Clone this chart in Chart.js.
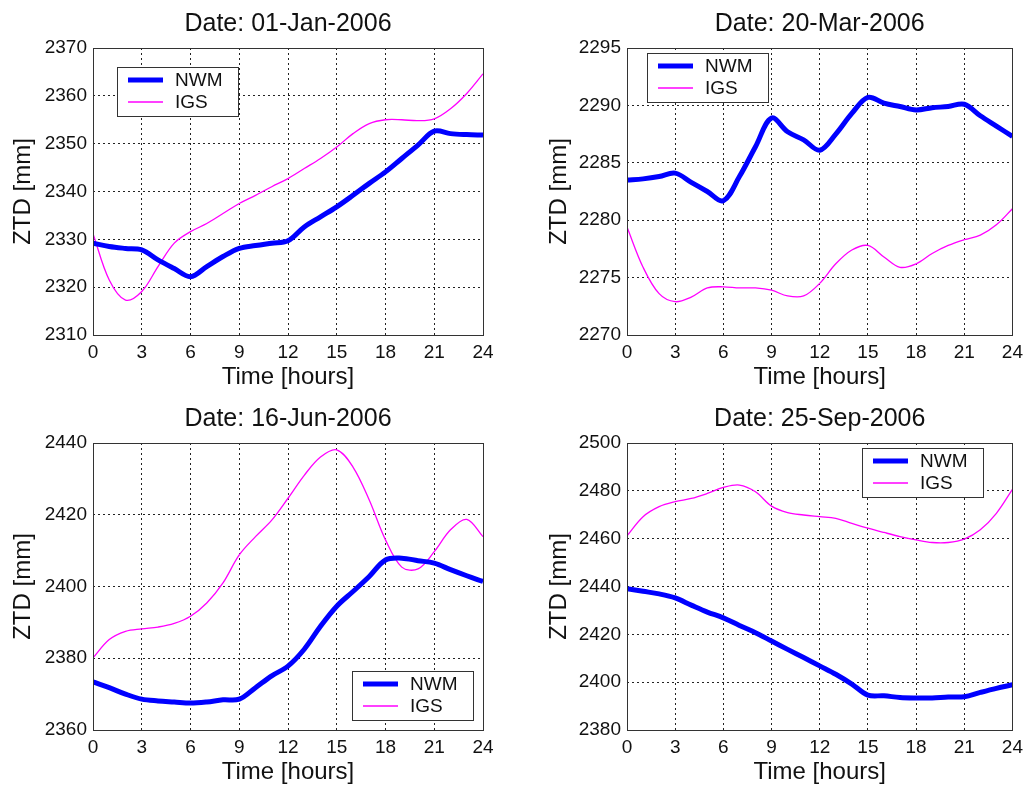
<!DOCTYPE html>
<html>
<head>
<meta charset="utf-8">
<script src="https://cdn.jsdelivr.net/npm/chart.js@4.4.1/dist/chart.umd.min.js"></script>
<style>
    html, body { margin: 0; padding: 0; background: #fff; }
    body { width: 1029px; height: 785px; position: relative; overflow: hidden; }
    .panel { position: absolute; }
</style>
</head>
<body>
<div class="panel" style="left:0;top:0"><canvas id="c1" width="514" height="395"></canvas></div>
<div class="panel" style="left:514px;top:0"><canvas id="c2" width="515" height="395"></canvas></div>
<div class="panel" style="left:0;top:395px"><canvas id="c3" width="514" height="395"></canvas></div>
<div class="panel" style="left:514px;top:395px"><canvas id="c4" width="515" height="395"></canvas></div>
<script>
// Time axis
const hours = [0, 1, 2, 3, 4, 5, 6, 7, 8, 9, 10, 11, 12, 13, 14, 15, 16, 17, 18, 19, 20, 21, 22, 23, 24];
const xTicks = [0, 3, 6, 9, 12, 15, 18, 21, 24];

// 01-Jan-2006
const janNwm = [2329.2, 2328.5, 2328.1, 2327.8, 2325.7, 2323.9, 2322.2, 2324.3, 2326.4, 2328.1, 2328.7, 2329.2, 2329.7,
                2332.6, 2334.7, 2336.8, 2339.2, 2341.7, 2344.1, 2346.9, 2349.7, 2352.6, 2352.1, 2351.9, 2351.8];
const janIgs = [2331.2, 2321.5, 2317.3, 2319.1, 2324.3, 2329.2, 2331.6, 2333.3, 2335.4, 2337.5, 2339.2, 2341.0, 2342.7,
                2344.8, 2346.9, 2349.3, 2352.1, 2354.2, 2355.0, 2355.0, 2354.8, 2355.2, 2357.3, 2360.5, 2364.6];
const janTicks = [2310, 2320, 2330, 2340, 2350, 2360, 2370];

// 20-Mar-2006
const marNwm = [2283.5, 2283.6, 2283.8, 2284.1, 2283.3, 2282.5, 2281.7, 2283.8, 2286.4, 2288.9, 2287.7, 2287.0, 2286.1,
                2287.5, 2289.3, 2290.7, 2290.2, 2289.9, 2289.6, 2289.8, 2289.9, 2290.1, 2289.1, 2288.2, 2287.3];
const marIgs = [2279.4, 2275.9, 2273.6, 2272.9, 2273.3, 2274.1, 2274.2, 2274.1, 2274.1, 2273.9, 2273.4, 2273.4, 2274.5,
                2276.2, 2277.4, 2277.8, 2276.8, 2275.9, 2276.2, 2277.1, 2277.8, 2278.3, 2278.7, 2279.6, 2281.0];
const marTicks = [2270, 2275, 2280, 2285, 2290, 2295];

// 16-Jun-2006
const junNwm = [2373.4, 2371.8, 2370.0, 2368.6, 2368.1, 2367.8, 2367.5, 2367.8, 2368.4, 2368.6, 2371.8, 2375.1, 2377.8,
                2382.5, 2388.9, 2394.5, 2398.6, 2402.8, 2407.4, 2407.9, 2407.2, 2406.5, 2404.7, 2403.0, 2401.4];
const junIgs = [2380.1, 2385.2, 2387.5, 2388.2, 2388.7, 2389.7, 2391.7, 2395.4, 2401.0, 2408.8, 2413.9, 2418.5, 2424.6,
                2431.0, 2436.1, 2438.1, 2433.3, 2424.1, 2413.0, 2405.4, 2404.9, 2409.7, 2415.8, 2418.7, 2413.9];
const junTicks = [2360, 2380, 2400, 2420, 2440];

// 25-Sep-2006
const sepNwm = [2439.1, 2438.0, 2436.9, 2435.2, 2432.2, 2429.3, 2426.9, 2423.7, 2420.7, 2417.2, 2413.7, 2410.3, 2406.8,
                2403.3, 2399.2, 2394.6, 2394.3, 2393.6, 2393.4, 2393.4, 2393.8, 2393.9, 2395.7, 2397.4, 2398.9];
const sepIgs = [2461.2, 2469.2, 2473.4, 2475.5, 2476.8, 2478.9, 2481.4, 2482.4, 2479.6, 2473.6, 2470.9, 2469.9, 2469.2,
                2468.5, 2466.4, 2464.4, 2462.6, 2460.9, 2459.5, 2458.4, 2458.4, 2459.8, 2463.7, 2470.6, 2480.6];
const sepTicks = [2380, 2400, 2420, 2440, 2460, 2480, 2500];

const FONT = '"Liberation Sans", Arial, Helvetica, sans-serif';
const TEXT = '#111';

// axes box + legend box drawn inside the plot area (MATLAB style)
const boxPlugin = {
    id: 'boxPlugin',
    afterDatasetsDraw(chart, args, o) {
        const { ctx, chartArea: a } = chart;
        ctx.save();
        ctx.strokeStyle = '#333';
        ctx.lineWidth = 1;
        ctx.strokeRect(Math.round(a.left) + 0.5, Math.round(a.top) + 0.5,
                       Math.round(a.right - a.left), Math.round(a.bottom - a.top));

        const w = 121, h = 49;
        const x = Math.round(o.left != null ? a.left + o.left : a.right - o.right - w);
        const y = Math.round(o.top != null ? a.top + o.top : a.bottom - o.bottom - h);
        ctx.fillStyle = '#fff';
        ctx.fillRect(x, y, w, h);
        ctx.strokeRect(x + 0.5, y + 0.5, w, h);
        chart.data.datasets.forEach((ds, i) => {
            const ly = y + 13 + i * 22;
            ctx.strokeStyle = ds.borderColor;
            ctx.lineWidth = ds.borderWidth;
            ctx.beginPath();
            ctx.moveTo(x + 11, ly);
            ctx.lineTo(x + 46, ly);
            ctx.stroke();
            ctx.fillStyle = TEXT;
            ctx.font = '19px ' + FONT;
            ctx.textBaseline = 'middle';
            ctx.fillText(ds.label, x + 58, ly + 1);
        });
        ctx.restore();
    }
};

function gridColor(c) {
    const n = c.scale.ticks.length;
    return (c.index === 0 || c.index === n - 1) ? 'rgba(0,0,0,0)' : '#222';
}

function makeChart(id, p) {
    new Chart(document.getElementById(id), {
        type: 'line',
        data: {
            datasets: [{
                label: 'NWM',
                data: hours.map((h, i) => ({ x: h, y: p.nwm[i] })),
                borderColor: '#0000ff',
                borderWidth: 5,
                pointRadius: 0,
                tension: 0.35
            }, {
                label: 'IGS',
                data: hours.map((h, i) => ({ x: h, y: p.igs[i] })),
                borderColor: '#ff00ff',
                borderWidth: 1.3,
                pointRadius: 0,
                tension: 0.35
            }]
        },
        options: {
            responsive: false,
            animation: false,
            events: [],
            layout: { padding: { left: 0, right: p.padRight, top: 0, bottom: 0 } },
            plugins: {
                legend: { display: false },
                tooltip: { enabled: false },
                title: {
                    display: true,
                    text: p.title,
                    fullSize: false,
                    color: TEXT,
                    font: { family: FONT, size: 25, weight: 'normal' },
                    padding: { top: 9, bottom: 9 }
                },
                boxPlugin: p.legend
            },
            scales: {
                x: {
                    type: 'linear',
                    min: 0,
                    max: 24,
                    afterBuildTicks: s => { s.ticks = xTicks.map(v => ({ value: v })); },
                    afterFit: s => { s.height = 60; },
                    ticks: { color: TEXT, font: { family: FONT, size: 19 }, padding: 6, maxRotation: 0,
                             callback: v => String(v) },
                    grid: { color: gridColor, lineWidth: 1, drawTicks: false },
                    border: { display: false, dash: [2, 3] },
                    title: {
                        display: true,
                        text: 'Time [hours]',
                        color: TEXT,
                        font: { family: FONT, size: 24 },
                        padding: { top: 0, bottom: 3 }
                    }
                },
                y: {
                    min: p.ticks[0],
                    max: p.ticks[p.ticks.length - 1],
                    afterBuildTicks: s => { s.ticks = p.ticks.map(v => ({ value: v })); },
                    afterFit: s => { s.width = p.yWidth; },
                    ticks: { color: TEXT, font: { family: FONT, size: 19 }, padding: 6,
                             callback: v => String(v) },
                    grid: { color: gridColor, lineWidth: 1, drawTicks: false },
                    border: { display: false, dash: [2, 3] },
                    title: {
                        display: true,
                        text: 'ZTD [mm]',
                        color: TEXT,
                        font: { family: FONT, size: 24 },
                        padding: { top: p.yTitlePad, bottom: 0 }
                    }
                }
            }
        },
        plugins: [boxPlugin]
    });
}

makeChart('c1', { title: 'Date: 01-Jan-2006', nwm: janNwm, igs: janIgs, ticks: janTicks,
                  yWidth: 93, yTitlePad: 9, padRight: 31, legend: { left: 24, top: 19 } });
makeChart('c2', { title: 'Date: 20-Mar-2006', nwm: marNwm, igs: marIgs, ticks: marTicks,
                  yWidth: 113, yTitlePad: 31, padRight: 12, legend: { left: 20, top: 5 } });
makeChart('c3', { title: 'Date: 16-Jun-2006', nwm: junNwm, igs: junIgs, ticks: junTicks,
                  yWidth: 93, yTitlePad: 9, padRight: 31, legend: { right: 10, bottom: 10 } });
makeChart('c4', { title: 'Date: 25-Sep-2006', nwm: sepNwm, igs: sepIgs, ticks: sepTicks,
                  yWidth: 113, yTitlePad: 31, padRight: 12, legend: { right: 29, top: 5 } });
</script>
</body>
</html>
